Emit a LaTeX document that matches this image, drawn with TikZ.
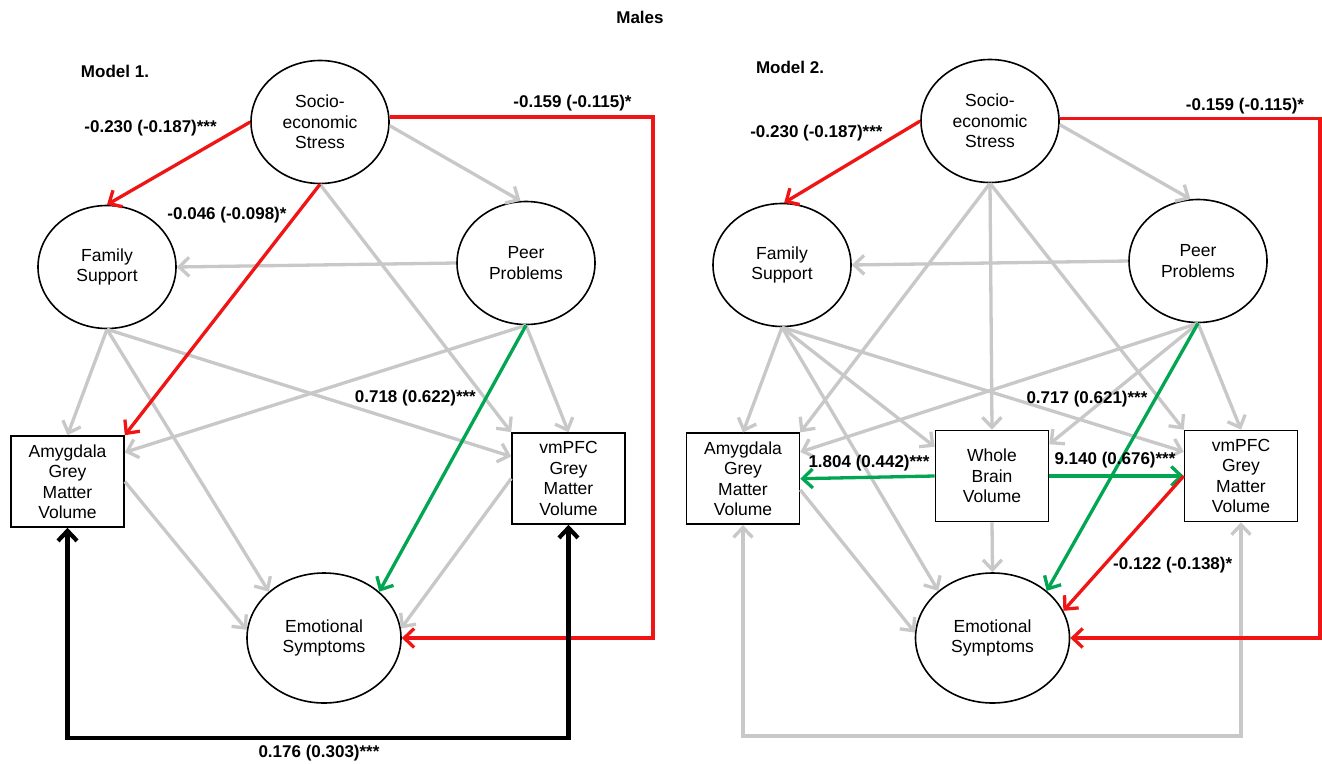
\documentclass[tikz,border=0pt]{standalone}
\usepackage{fontspec}
\setmainfont{Liberation Sans}
\usetikzlibrary{arrows.meta,shapes.geometric}
\definecolor{lg}{RGB}{200,200,200}
\definecolor{rd}{RGB}{240,20,20}
\definecolor{gn}{RGB}{0,166,81}
\tikzset{
  lat/.style={ellipse,draw=black,line width=1.6pt,minimum width=138pt,minimum height=123pt,inner sep=0pt,align=center,font=\fontsize{17.5}{20.5}\selectfont},
  latb/.style={lat,minimum width=154pt,minimum height=130pt},
  box/.style={rectangle,draw=black,line width=1.6pt,minimum width=113pt,minimum height=91pt,inner sep=0pt,align=center,font=\fontsize{17.5}{20.5}\selectfont},
  arr/.style={line width=3.3pt,-{Straight Barb[length=10pt,width=19pt,line width=3.3pt]}},
  gpath/.style={arr,draw=lg},
  rpath/.style={arr,draw=rd},
  npath/.style={arr,draw=gn},
  lab/.style={font=\bfseries\fontsize{17}{20}\selectfont,inner sep=0pt},
}
\begin{document}
\begin{tikzpicture}[x=1pt,y=-1pt]
\useasboundingbox[fill=white] (0,0) rectangle (1322,763);
\node[lab] (title) at (640,17) {Males};
% ---------------- Model 1 ----------------
\node[lab] (m1) at (115,71) {Model 1.};
\node[lat] (soc1) at (320,122) {Socio-\\economic\\Stress};
\node[lat] (fam1) at (107,267) {Family\\Support};
\node[lat] (peer1) at (526,263) {Peer\\Problems};
\node[latb] (emo1) at (324,638) {Emotional\\Symptoms};
\node[box] (amy1) at (67.5,481.5) {Amygdala\\Grey\\Matter\\Volume};
\node[box] (vm1) at (568.5,478.5) {vmPFC\\Grey\\Matter\\Volume};
\coordinate (r1) at (653,637);
\coordinate (b1) at (318,738);
% gray paths
\draw[gpath] (soc1.-3) -- (peer1.95);
\draw[gpath] (soc1.south) -- (vm1.north west);
\draw[gpath] (peer1.west) -- (fam1.east);
\draw[gpath] (fam1.south) -- (amy1.north);
\draw[gpath] (fam1.south) -- (emo1.140);
\draw[gpath] (fam1.south) -- (vm1.159);
\draw[gpath] (peer1.south) -- (amy1.27);
\draw[gpath] (peer1.south) -- (vm1.north);
\draw[gpath] (amy1.east) -- (emo1.174);
\draw[gpath] (vm1.west) -- (emo1.7);
% coloured paths
\draw[rpath] (soc1.west) -- (fam1.north);
\draw[rpath] (soc1.south) -- (amy1.north east);
\draw[rpath] (soc1.4) -- (soc1.4 -| r1) |- (emo1.east);
\draw[npath] (peer1.south) -- (emo1.40);
\draw[line width=4.2pt,{Straight Barb[length=10pt,width=19pt,line width=4.2pt]}-{Straight Barb[length=10pt,width=19pt,line width=4.2pt]}] (amy1.south) |- (b1) -| (vm1.south);
% labels
\node[lab] (l11) at (150.6,128) {-0.230 (-0.187)***};
\node[lab] (l12) at (572.5,103) {-0.159 (-0.115)*};
\node[lab] (l13) at (227,215) {-0.046 (-0.098)*};
\node[lab] (l14) at (415.4,398) {0.718 (0.622)***};
\node[lab] (l15) at (319,753) {0.176 (0.303)***};
% ---------------- Model 2 ----------------
\node[lab] (m2) at (790,67) {Model 2.};
\node[lat] (soc2) at (990,121) {Socio-\\economic\\Stress};
\node[lat] (fam2) at (782,265) {Family\\Support};
\node[lat] (peer2) at (1198,261) {Peer\\Problems};
\node[latb] (emo2) at (992.5,638) {Emotional\\Symptoms};
\node[box] (amy2) at (743,478.7) {Amygdala\\Grey\\Matter\\Volume};
\node[box] (wb2) at (992,476) {Whole\\Brain\\Volume};
\node[box] (vm2) at (1241,476) {vmPFC\\Grey\\Matter\\Volume};
\coordinate (r2) at (1320,637);
\coordinate (b2) at (992,736);
% gray paths
\draw[gpath] (soc2.-3) -- (peer2.97);
\draw[gpath] (soc2.south) -- (amy2.north east);
\draw[gpath] (soc2.south) -- (wb2.north);
\draw[gpath] (soc2.south) -- (vm2.north west);
\draw[gpath] (peer2.west) -- (fam2.east);
\draw[gpath] (fam2.south) -- (amy2.north);
\draw[gpath] (fam2.south) -- (wb2.153);
\draw[gpath] (fam2.south) -- (emo2.139);
\draw[gpath] (fam2.south) -- (vm2.157);
\draw[gpath] (peer2.south) -- (amy2.25);
\draw[gpath] (peer2.south) -- (wb2.29);
\draw[gpath] (peer2.south) -- (vm2.north);
\draw[gpath] (wb2.south) -- (emo2.north);
\draw[gpath] (amy2.-11) -- (emo2.176);
\draw[line width=3.3pt,draw=lg,{Straight Barb[length=10pt,width=19pt,line width=3.3pt]}-{Straight Barb[length=10pt,width=19pt,line width=3.3pt]}] (amy2.south) |- (b2) -| (vm2.south);
% coloured paths
\draw[rpath] (soc2.west) -- (fam2.88);
\draw[rpath] (soc2.2) -- (soc2.2 -| r2) |- (emo2.east);
\draw[npath] (peer2.south) -- (emo2.41);
\draw[npath] (wb2.west) -- (amy2.east);
\draw[npath] (wb2.east) -- (vm2.west);
\draw[rpath] (vm2.west) -- (emo2.21);
% labels
\node[lab] (l21) at (816.4,133) {-0.230 (-0.187)***};
\node[lab] (l22) at (1245,106) {-0.159 (-0.115)*};
\node[lab] (l23) at (1087,399) {0.717 (0.621)***};
\node[lab] (l24) at (869,463) {1.804 (0.442)***};
\node[lab] (l25) at (1115,460) {9.140 (0.676)***};
\node[lab] (l26) at (1172.7,565) {-0.122 (-0.138)*};
\end{tikzpicture}
\end{document}
